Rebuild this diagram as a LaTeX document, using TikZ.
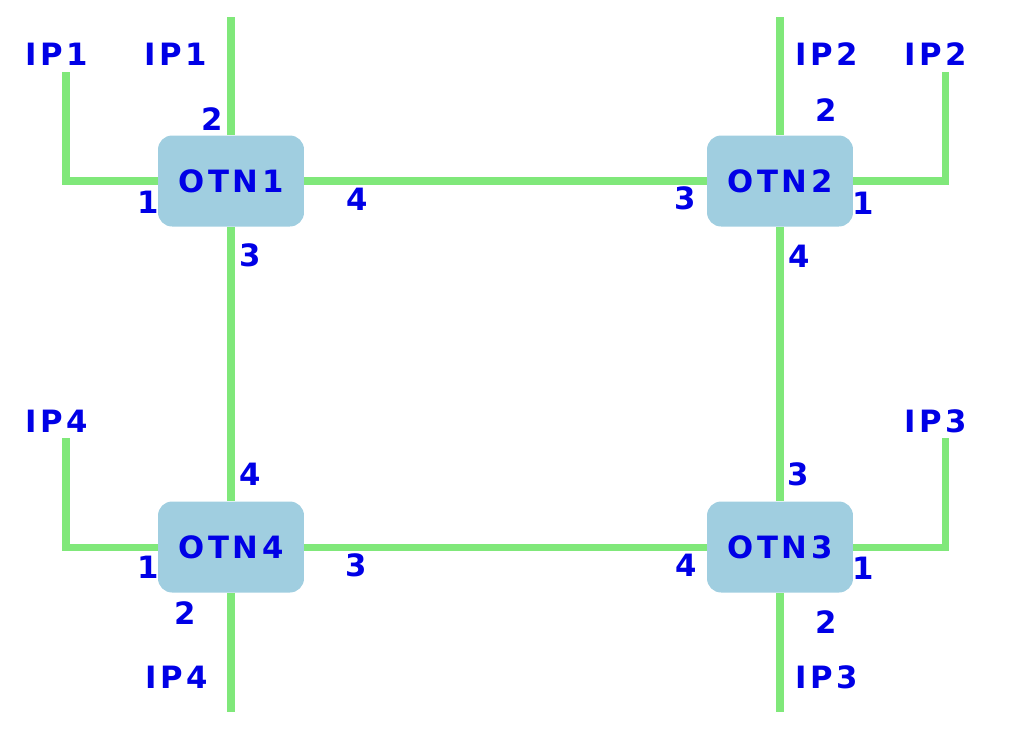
\documentclass[tikz,border=0pt]{standalone}
\usepackage{fontspec}
\newfontfamily\otnfont[LetterSpace=12]{DejaVu Sans}
\definecolor{linkgreen}{RGB}{128,232,122}
\definecolor{boxblue}{RGB}{160,206,224}
\definecolor{txtblue}{RGB}{0,0,230}
\tikzset{
  otn/.style={rectangle, rounded corners=8pt, fill=boxblue, inner sep=0pt,
    minimum width=2.92cm, minimum height=1.82cm, text=txtblue,
    font=\otnfont\bfseries\fontsize{17.5}{20}\selectfont},
  port/.style={inner sep=0pt, text=txtblue,
    font=\otnfont\bfseries\fontsize{17.5}{20}\selectfont},
  link/.style={draw=linkgreen, line width=4pt, line join=miter}
}
\begin{document}
\begin{tikzpicture}[x=0.02cm, y=-0.02cm]
      \useasboundingbox (0, 0) rectangle (1010, 728);
      % switches
      \node [otn] (otn1) at (231, 181) {OTN1};
      \node [otn] (otn2) at (780, 181) {OTN2};
      \node [otn] (otn3) at (780, 547) {OTN3};
      \node [otn] (otn4) at (231, 547) {OTN4};
      % free ends
      \coordinate (t1) at (231, 17);
      \coordinate (t2) at (780, 17);
      \coordinate (b3) at (780, 712);
      \coordinate (b4) at (231, 712);
      \coordinate (s1) at (66, 72);
      \coordinate (s2) at (945, 72);
      \coordinate (s3) at (945, 438);
      \coordinate (s4) at (66, 438);
      % links
      \draw[link] (otn1.east) -- (otn2.west);
      \draw[link] (otn4.east) -- (otn3.west);
      \draw[link] (otn1.south) -- (otn4.north);
      \draw[link] (otn2.south) -- (otn3.north);
      \draw[link] (otn1.north) -- (t1);
      \draw[link] (otn2.north) -- (t2);
      \draw[link] (otn3.south) -- (b3);
      \draw[link] (otn4.south) -- (b4);
      \draw[link] (s1) |- (otn1.west);
      \draw[link] (s2) |- (otn2.east);
      \draw[link] (s3) |- (otn3.east);
      \draw[link] (s4) |- (otn4.west);
      % IP labels
      \node [port] (ip1a) at (57, 54) {IP1};
      \node [port] (ip1b) at (176, 54) {IP1};
      \node [port] (ip2a) at (827, 54) {IP2};
      \node [port] (ip2b) at (936, 54) {IP2};
      \node [port] (ip3a) at (936, 421) {IP3};
      \node [port] (ip3b) at (827, 677) {IP3};
      \node [port] (ip4a) at (57, 421) {IP4};
      \node [port] (ip4b) at (177, 677) {IP4};
      % port numbers
      \node [port] (n11) at (148, 202) {1};
      \node [port] (n12) at (212, 119) {2};
      \node [port] (n13) at (250, 255) {3};
      \node [port] (n14) at (357, 199) {4};
      \node [port] (n21) at (863, 203) {1};
      \node [port] (n22) at (826, 110) {2};
      \node [port] (n23) at (685, 198) {3};
      \node [port] (n24) at (799, 256) {4};
      \node [port] (n31) at (863, 568) {1};
      \node [port] (n32) at (826, 622) {2};
      \node [port] (n33) at (798, 474) {3};
      \node [port] (n34) at (686, 565) {4};
      \node [port] (n41) at (148, 567) {1};
      \node [port] (n42) at (185, 613) {2};
      \node [port] (n43) at (356, 565) {3};
      \node [port] (n44) at (250, 474) {4};
\end{tikzpicture}
\end{document}
